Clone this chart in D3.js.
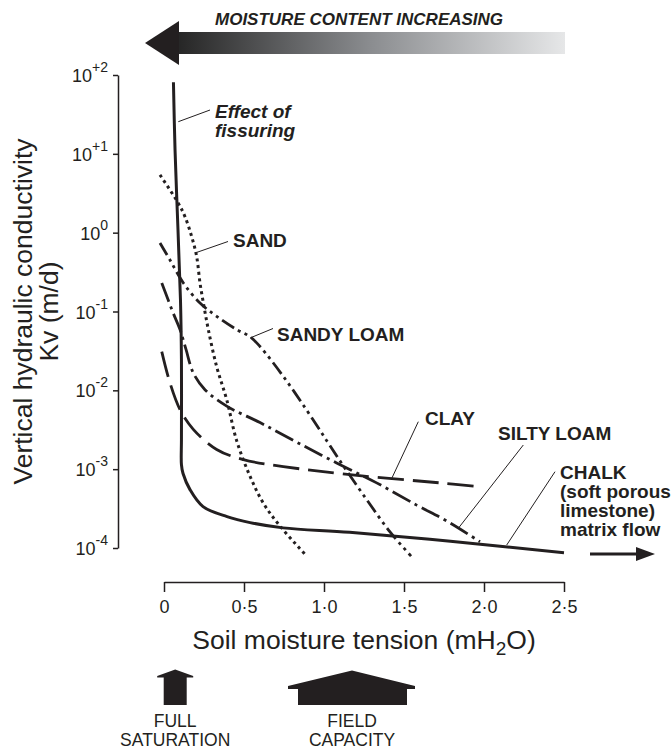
<!DOCTYPE html>
<html>
<head>
<meta charset="utf-8">
<script src="https://cdn.jsdelivr.net/npm/d3@7"></script>
<style>
  html, body { margin: 0; padding: 0; background: #fff; }
  svg { display: block; font-family: "Liberation Sans", Arial, Helvetica, sans-serif; }
</style>
</head>
<body>
<svg id="chart" width="672" height="749"></svg>
<script>
// Soil moisture tension (mH2O) vs vertical hydraulic conductivity Kv (m/d)
const chalkTension = [0.059, 0.069, 0.0875, 0.103, 0.109, 0.109, 0.109, 0.119, 0.1625, 0.244, 0.394, 0.538, 0.744, 1.16, 1.79, 2.5];
const chalkK       = [81, 11.2, 1.08, 0.14, 0.0244, 0.00237, 0.00114, 0.00088, 0.00055, 0.000335, 0.00025, 0.00021, 0.00018, 0.000158, 0.000122, 0.000087];

const sandTension = [-0.025, 0.089, 0.131, 0.173, 0.204, 0.225, 0.246, 0.277, 0.329, 0.392, 0.454, 0.538, 0.621, 0.725, 0.892];
const sandK       = [5.4, 2.37, 1.6, 0.89, 0.50, 0.23, 0.129, 0.059, 0.020, 0.0076, 0.0023, 0.00081, 0.00037, 0.00019, 0.000079];

const sandyLoamTension = [-0.025, 0.0375, 0.121, 0.225, 0.329, 0.454, 0.5375, 0.6, 0.746, 0.892, 1.017, 1.121, 1.267, 1.4125, 1.544];
const sandyLoamK       = [0.74, 0.45, 0.23, 0.128, 0.087, 0.059, 0.048, 0.036, 0.015, 0.0056, 0.0023, 0.0011, 0.00041, 0.00016, 0.000079];

const siltyLoamTension = [-0.014, 0.058, 0.1, 0.1375, 0.183, 0.256, 0.392, 0.6, 0.829, 1.079, 1.329, 1.579, 1.767, 1.975];
const siltyLoamK       = [0.23, 0.095, 0.059, 0.033, 0.0166, 0.0102, 0.0063, 0.0039, 0.0022, 0.0012, 0.00067, 0.00035, 0.00022, 0.00012];

const clayTension = [-0.014, 0.0375, 0.1, 0.183, 0.329, 0.496, 0.746, 1.1625, 1.725, 1.975];
const clayK       = [0.031, 0.0124, 0.0057, 0.0032, 0.00178, 0.00132, 0.00108, 0.00085, 0.00067, 0.0006];

const xTicks = [0, 0.5, 1.0, 1.5, 2.0, 2.5];
const xTickLabels = ["0", "0·5", "1·0", "1·5", "2·0", "2·5"];
const yTicks = [1e2, 1e1, 1e0, 1e-1, 1e-2, 1e-3, 1e-4];
const yTickExponents = ["+2", "+1", "0", "-1", "-2", "-3", "-4"];

const fullSaturationTension = 0.07;
const fieldCapacityTension = 1.175;

const ink = "#231f20";
const svg = d3.select("#chart");

const x = d3.scaleLinear().domain([0, 2.5]).range([164, 564]);
const y = d3.scaleLog().domain([1e-4, 1e2]).range([548, 75]);

// gradient for the "moisture content increasing" arrow
const defs = svg.append("defs");
const grad = defs.append("linearGradient").attr("id", "moistGrad")
  .attr("gradientUnits", "userSpaceOnUse").attr("x1", 178).attr("x2", 565).attr("y1", 0).attr("y2", 0);
grad.append("stop").attr("offset", "0%").attr("stop-color", "#262626");
grad.append("stop").attr("offset", "50%").attr("stop-color", "#8b8d90");
grad.append("stop").attr("offset", "100%").attr("stop-color", "#e6e7e8");

const banner = svg.append("g");
banner.append("rect").attr("x", 178).attr("y", 32).attr("width", 565 - 178).attr("height", 22).attr("fill", "url(#moistGrad)");
banner.append("path").attr("d", "M145,43 L179,21 L179,65 Z").attr("fill", ink);
banner.append("text").attr("x", 215).attr("y", 25)
  .attr("font-size", 17).attr("font-weight", "bold").attr("font-style", "italic").attr("fill", ink)
  .text("MOISTURE CONTENT INCREASING");

// axes
const gy = svg.append("g").attr("transform", "translate(118,0)").style("color", ink)
  .call(d3.axisLeft(y).tickValues(yTicks).tickSize(5).tickSizeOuter(0).tickFormat(""));
gy.selectAll("path, line").attr("stroke-width", 1.5);
const yLab = svg.append("g").attr("fill", ink);
yTicks.forEach((v, i) => {
  const t = yLab.append("text").attr("x", 108).attr("y", y(v) + 7)
    .attr("text-anchor", "end").attr("font-size", 18);
  t.append("tspan").text("10");
  t.append("tspan").attr("font-size", 14).attr("dy", -10).text(yTickExponents[i]);
});

const gx = svg.append("g").attr("transform", "translate(0,582)").style("color", ink)
  .call(d3.axisBottom(x).tickValues(xTicks).tickSize(10).tickSizeOuter(0).tickPadding(8)
    .tickFormat((d, i) => xTickLabels[i]));
gx.selectAll("path, line").attr("stroke-width", 1.5);
gx.selectAll("text").attr("font-size", 18).attr("font-family", "Liberation Sans, Arial, sans-serif").attr("fill", ink);

// axis titles
const xt = svg.append("text").attr("x", 364).attr("y", 649).attr("text-anchor", "middle")
  .attr("font-size", 26.5).attr("fill", ink);
xt.append("tspan").text("Soil moisture tension (mH");
xt.append("tspan").attr("font-size", 19).attr("dy", 6).text("2");
xt.append("tspan").attr("dy", -6).text("O)");

svg.append("text").attr("transform", "translate(32,311.5) rotate(-90)").attr("text-anchor", "middle")
  .attr("font-size", 26.5).attr("fill", ink).text("Vertical hydraulic conductivity");
svg.append("text").attr("transform", "translate(58,311.5) rotate(-90)").attr("text-anchor", "middle")
  .attr("font-size", 26.5).attr("fill", ink).text("Kv (m/d)");

// curves
const line = d3.line().x(d => x(d[0])).y(d => y(d[1])).curve(d3.curveCatmullRom.alpha(0.5));
const series = [
  { t: clayTension, k: clayK, dash: "26,9", w: 2.8 },
  { t: siltyLoamTension, k: siltyLoamK, dash: "20,5,3,5", w: 2.8 },
  { t: sandyLoamTension, k: sandyLoamK, dash: "14,4.5,3,4.5,3,4.5", w: 2.8 },
  { t: sandTension, k: sandK, dash: "3,3.6", w: 3 },
  { t: chalkTension, k: chalkK, dash: null, w: 3 }
];
svg.append("g").selectAll("path").data(series).join("path")
  .attr("d", s => line(d3.zip(s.t, s.k)))
  .attr("fill", "none").attr("stroke", ink)
  .attr("stroke-width", s => s.w)
  .attr("stroke-dasharray", s => s.dash);

// leader lines and labels
const leaders = [
  [178.3, 121.7, 210, 110],
  [195, 253, 228, 241.5],
  [250, 338, 273, 328.5],
  [391.7, 478.5, 418.3, 421.7],
  [458.3, 528.3, 523.3, 445],
  [506.7, 545, 555, 471.7]
];
svg.append("g").selectAll("line").data(leaders).join("line")
  .attr("x1", d => d[0]).attr("y1", d => d[1]).attr("x2", d => d[2]).attr("y2", d => d[3])
  .attr("stroke", ink).attr("stroke-width", 1);

const labels = [
  { x: 215, y: 118, lines: ["Effect of", "fissuring"], italic: true },
  { x: 233, y: 247, lines: ["SAND"] },
  { x: 277, y: 341, lines: ["SANDY LOAM"] },
  { x: 425, y: 425, lines: ["CLAY"] },
  { x: 498, y: 439.5, lines: ["SILTY LOAM"] },
  { x: 560, y: 479, lines: ["CHALK", "(soft porous", "limestone)", "matrix flow"] }
];
labels.forEach(l => {
  const t = svg.append("text").attr("x", l.x).attr("y", l.y).attr("font-size", 19)
    .attr("font-weight", "bold").attr("fill", ink).attr("font-style", l.italic ? "italic" : "normal");
  l.lines.forEach((s, i) => t.append("tspan").attr("x", l.x).attr("dy", i ? 19 : 0).text(s));
});

// continuation arrow for chalk matrix flow
svg.append("line").attr("x1", 590).attr("y1", 554).attr("x2", 638).attr("y2", 554)
  .attr("stroke", ink).attr("stroke-width", 3);
svg.append("path").attr("d", "M636,547 L655,554 L636,561 Z").attr("fill", ink);

// full saturation and field capacity markers
const fs = x(fullSaturationTension);
svg.append("path").attr("fill", ink)
  .attr("d", `M${fs - 18},676 L${fs},669.5 L${fs + 18},676 L${fs + 18},677.5 L${fs + 11.5},677.5 L${fs + 11.5},705 L${fs - 11.5},705 L${fs - 11.5},677.5 L${fs - 18},677.5 Z`);
const fc = x(fieldCapacityTension);
svg.append("path").attr("fill", ink)
  .attr("d", `M${fc - 64},686 L${fc},670.5 L${fc + 63},686 L${fc + 63},689 L${fc + 55},689 L${fc + 55},705 L${fc - 54},705 L${fc - 54},689 L${fc - 64},689 Z`);

const bottomLabels = [
  { x: fs, lines: ["FULL", "SATURATION"] },
  { x: fc, lines: ["FIELD", "CAPACITY"] }
];
bottomLabels.forEach(b => {
  b.lines.forEach((s, i) => svg.append("text")
    .attr("x", b.x).attr("y", 726.5 + i * 19).attr("text-anchor", "middle")
    .attr("font-size", 17.5).attr("fill", ink).text(s));
});
</script>
</body>
</html>
